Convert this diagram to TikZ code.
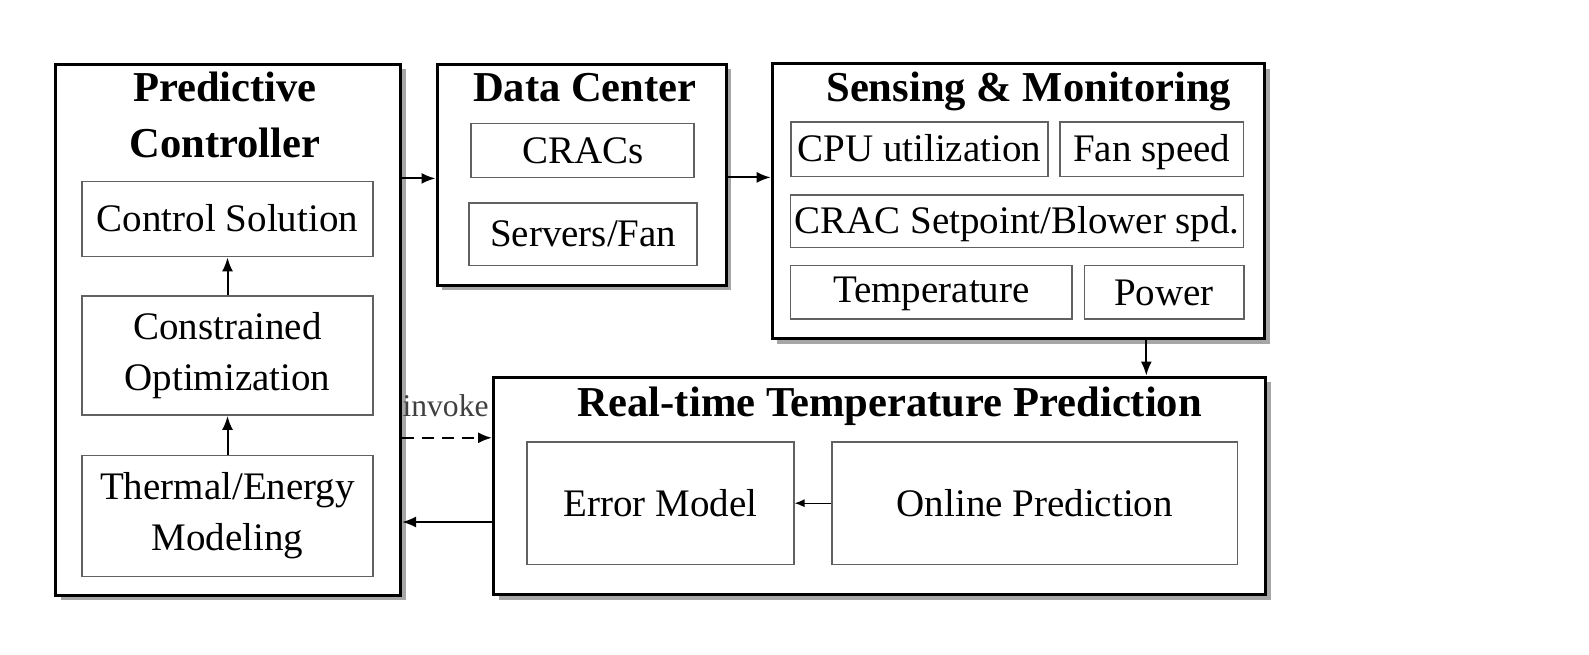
\documentclass[tikz,border=0pt]{standalone}
\usepackage{fontspec}
\setmainfont{Liberation Serif}
\usetikzlibrary{arrows.meta,shadows}
\begin{document}
\begin{tikzpicture}[x=0.5pt,y=-0.5pt,
  outer/.style={draw=black,line width=1.5pt,fill=white,inner sep=0pt,
    drop shadow={shadow xshift=2.5pt,shadow yshift=-2.5pt,opacity=0.35,fill=black}},
  inner/.style={draw=black!62,line width=0.9pt,fill=white,inner sep=0pt,align=center,
    font=\fontsize{19.5}{23.5}\selectfont},
  sl/.style={text height=15pt,text depth=2.2pt},
  ttl/.style={font=\fontsize{21.3}{27}\selectfont\bfseries,align=center,inner sep=0pt,anchor=base},
  arr/.style={line width=1pt,-{Latex[length=7pt,width=5.5pt]}},
  sarr/.style={line width=0.7pt,-{Latex[length=5pt,width=4pt]}}
]
\useasboundingbox (0,0) rectangle (1589,654);
% outer boxes
\node[outer,minimum width=172.5pt,minimum height=265.5pt] (PC) at (228,329.5) {};
\node[outer,minimum width=144.5pt,minimum height=110.5pt] (DC) at (581.5,174.5) {};
\node[outer,minimum width=246.3pt,minimum height=137.3pt] (SM) at (1018.5,201.2) {};
\node[outer,minimum width=386.2pt,minimum height=108.9pt] (RT) at (879.7,486) {};
% titles
\node[ttl] (PCt1) at (225,101.4) {Predictive};
\node[ttl] (PCt2) at (225,157) {Controller};
\node[ttl] (DCt) at (584.8,101.4) {Data Center};
\node[ttl] (SMt) at (1028.7,101.4) {Sensing \& Monitoring};
\node[ttl] (RTt) at (889.9,416) {Real-time Temperature Prediction};
% inner boxes: predictive controller
\node[inner,sl,minimum width=145.5pt,minimum height=37.5pt] (CS) at (227.5,219) {Control Solution};
\node[inner,minimum width=145.5pt,minimum height=59.5pt] (CO) at (227.5,355.5) {Constrained\\[2pt]Optimization};
\node[inner,minimum width=145.5pt,minimum height=60.5pt] (TE) at (227.5,516) {Thermal/Energy\\[2pt]Modeling};
% data center
\node[inner,sl,minimum width=111.5pt,minimum height=27pt] (CR) at (582.8,150.5) {CRACs};
\node[inner,sl,minimum width=114pt,minimum height=31.4pt] (SF) at (583.3,234.1) {Servers/Fan};
% sensing
\node[inner,sl,minimum width=128.7pt,minimum height=27.4pt] (CPU) at (919.3,149) {CPU utilization};
\node[inner,sl,minimum width=91.7pt,minimum height=27.4pt] (FS) at (1151.8,149) {Fan speed};
\node[inner,sl,minimum width=226.5pt,minimum height=26.4pt] (SP) at (1017,221) {CRAC Setpoint/Blower spd.};
\node[inner,sl,minimum width=140.9pt,minimum height=26.9pt] (TP) at (931.4,292.4) {\raisebox{1.2pt}{Temperature}};
\node[inner,sl,minimum width=79.6pt,minimum height=26.9pt] (PW) at (1164,292.4) {Power};
% real-time
\node[inner,sl,minimum width=133.3pt,minimum height=61.3pt] (EM) at (660.3,503.2) {Error Model};
\node[inner,sl,minimum width=202.7pt,minimum height=61.3pt] (OP) at (1034.8,503.2) {Online Prediction};
% connectors
\coordinate (ya) at (0,178.4);
\coordinate (yb) at (0,177.4);
\coordinate (xc) at (1146.3,0);
\coordinate (yd) at (0,437.8);
\coordinate (ye) at (0,522);
\coordinate (yi) at (0,416.7);
\draw[arr] (PC.east |- ya) -- (DC.west |- ya);
\draw[arr] (DC.east |- yb) -- (SM.west |- yb);
\draw[arr] (SM.south -| xc) -- (RT.north -| xc);
\draw[arr,dashed,dash pattern=on 6pt off 4pt] (PC.east |- yd) -- (RT.west |- yd);
\node[anchor=base east,font=\fontsize{15.8}{18}\selectfont,text=black!75,inner sep=0pt,xshift=-1.5pt] (inv) at (RT.west |- yi) {invoke};
\draw[arr] (RT.west |- ye) -- (PC.east |- ye);
\draw[sarr] (OP.west) -- (EM.east);
\draw[arr] (CO.north) -- (CS.south);
\draw[arr] (TE.north) -- (CO.south);
\end{tikzpicture}
\end{document}
